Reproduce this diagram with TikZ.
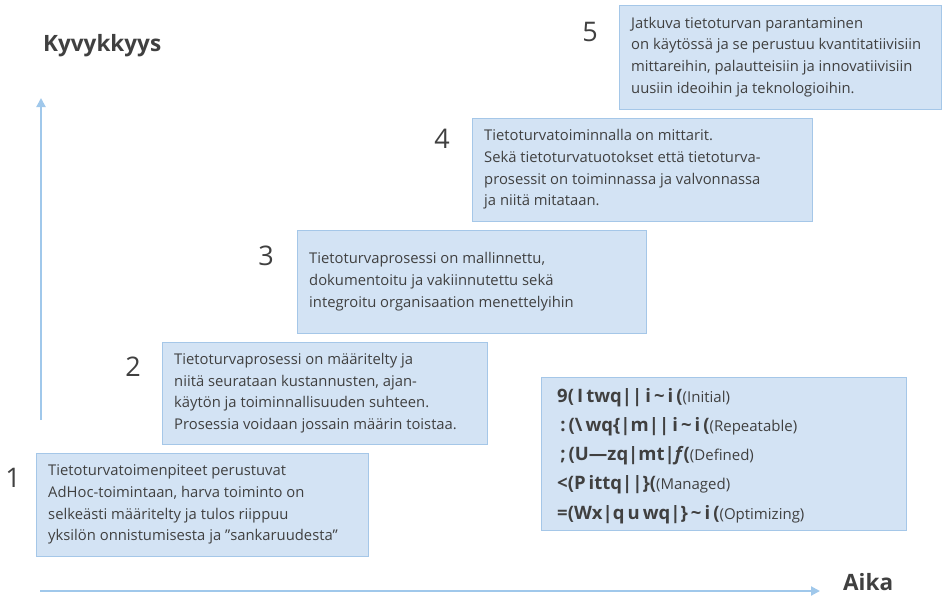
\documentclass[tikz,border=0pt]{standalone}
\usepackage{fontspec}
\setmainfont{Open Sans}
\usetikzlibrary{arrows.meta}
\definecolor{boxfill}{RGB}{211,227,244}
\definecolor{boxline}{RGB}{165,199,232}
\definecolor{axis}{RGB}{160,200,235}
\definecolor{ink}{RGB}{64,64,64}
\tikzset{
  levelbox/.style={draw=boxline, fill=boxfill, line width=1pt, inner sep=0pt},
  leveltext/.style={anchor=west, inner sep=0pt, align=left, text=ink,
    font=\fontsize{14.8}{21.7}\selectfont},
  num/.style={text=ink, inner sep=0pt, font=\fontsize{27}{27}\selectfont},
  axislabel/.style={text=ink, inner sep=0pt, font=\fontsize{22.5}{22.5}\selectfont\bfseries},
  axisarrow/.style={draw=axis, line width=2pt, -{Triangle[length=9pt,width=9pt]}},
  legendline/.style={anchor=west, text=ink, inner sep=0pt},
  code/.style={font=\fontsize{18.5}{18.5}\selectfont\bfseries},
  gloss/.style={font=\fontsize{15}{15}\selectfont}
}
\newcommand{\codepart}[1]{{\fontsize{18.5}{18.5}\selectfont\bfseries #1}}
\newcommand{\glosspart}[1]{{\fontsize{15}{15}\selectfont #1}}
\begin{document}
\begin{tikzpicture}[x=1pt,y=-1pt]
\useasboundingbox (0,0) rectangle (943,595);

% axes
\coordinate (vbot) at (41,420);
\coordinate (vtop) at (41,98);
\coordinate (hleft) at (40,591);
\coordinate (hright) at (820,591);
\draw[axisarrow] (vbot) -- (vtop);
\draw[axisarrow] (hleft) -- (hright);
\node[axislabel, anchor=west] (ylab) at (43,46) {Kyvykkyys};
\node[axislabel, anchor=west] (xlab) at (843,582) {Aika};

% maturity level boxes
\path[levelbox] (36,453) rectangle (368,556) node[midway] (l1) {};
\path[levelbox] (162,342) rectangle (487,444) node[midway] (l2) {};
\path[levelbox] (297,230) rectangle (646,333) node[midway] (l3) {};
\path[levelbox] (472,118) rectangle (812,221) node[midway] (l4) {};
\path[levelbox] (619,5) rectangle (941,109) node[midway] (l5) {};

% level descriptions
\node[leveltext] (t1) at ([xshift=12pt]l1.center -| 36,0) {Tietoturvatoimenpiteet perustuvat\\AdHoc-toimintaan, harva toiminto on\\selkeästi määritelty ja tulos riippuu\\yksilön onnistumisesta ja ”sankaruudesta”};
\node[leveltext] (t2) at ([xshift=12pt]l2.center -| 162,0) {Tietoturvaprosessi on määritelty ja\\niitä seurataan kustannusten, ajan-\\käytön ja toiminnallisuuden suhteen.\\Prosessia voidaan jossain määrin toistaa.};
\node[leveltext] (t3) at ([xshift=12pt]l3.center -| 297,0) {Tietoturvaprosessi on mallinnettu,\\dokumentoitu ja vakiinnutettu sekä\\integroitu organisaation menettelyihin};
\node[leveltext] (t4) at ([xshift=12pt]l4.center -| 472,0) {Tietoturvatoiminnalla on mittarit.\\Sekä tietoturvatuotokset että tietoturva-\\prosessit on toiminnassa ja valvonnassa\\ja niitä mitataan.};
\node[leveltext] (t5) at ([xshift=12pt]l5.center -| 619,0) {Jatkuva tietoturvan parantaminen\\on käytössä ja se perustuu kvantitatiivisiin\\mittareihin, palautteisiin ja innovatiivisiin\\uusiin ideoihin ja teknologioihin.};

% level numbers
\node[num] (n1) at (13,478) {1};
\node[num] (n2) at (133,367) {2};
\node[num] (n3) at (266,256) {3};
\node[num] (n4) at (442,139) {4};
\node[num] (n5) at (590,32) {5};

% legend
\path[levelbox] (541,377) rectangle (906,530) node[midway] (legend) {};
\begin{scope}[every node/.style={legendline}]
\node (g1) at (557,398) {\codepart{9(\,I\,twq||\,i\,\textasciitilde\,i\,(}\glosspart{(Initial)}};
\node (g2) at (557,427) {\codepart{\,:\,(\textbackslash\,wq\{|m||\,i\,\textasciitilde\,i\,(}\glosspart{(Repeatable)}};
\node (g3) at (557,456) {\codepart{\,;\,(U—zq|mt|\textit{f}(}\glosspart{(Defined)}};
\node (g4) at (557,485) {\codepart{<(P\,ittq||\}(}\glosspart{(Managed)}};
\node (g5) at (557,515) {\codepart{=(Wx|q\,u\,wq|\}\,\textasciitilde\,i\,(}\glosspart{(Optimizing)}};
\end{scope}
\end{tikzpicture}
\end{document}
